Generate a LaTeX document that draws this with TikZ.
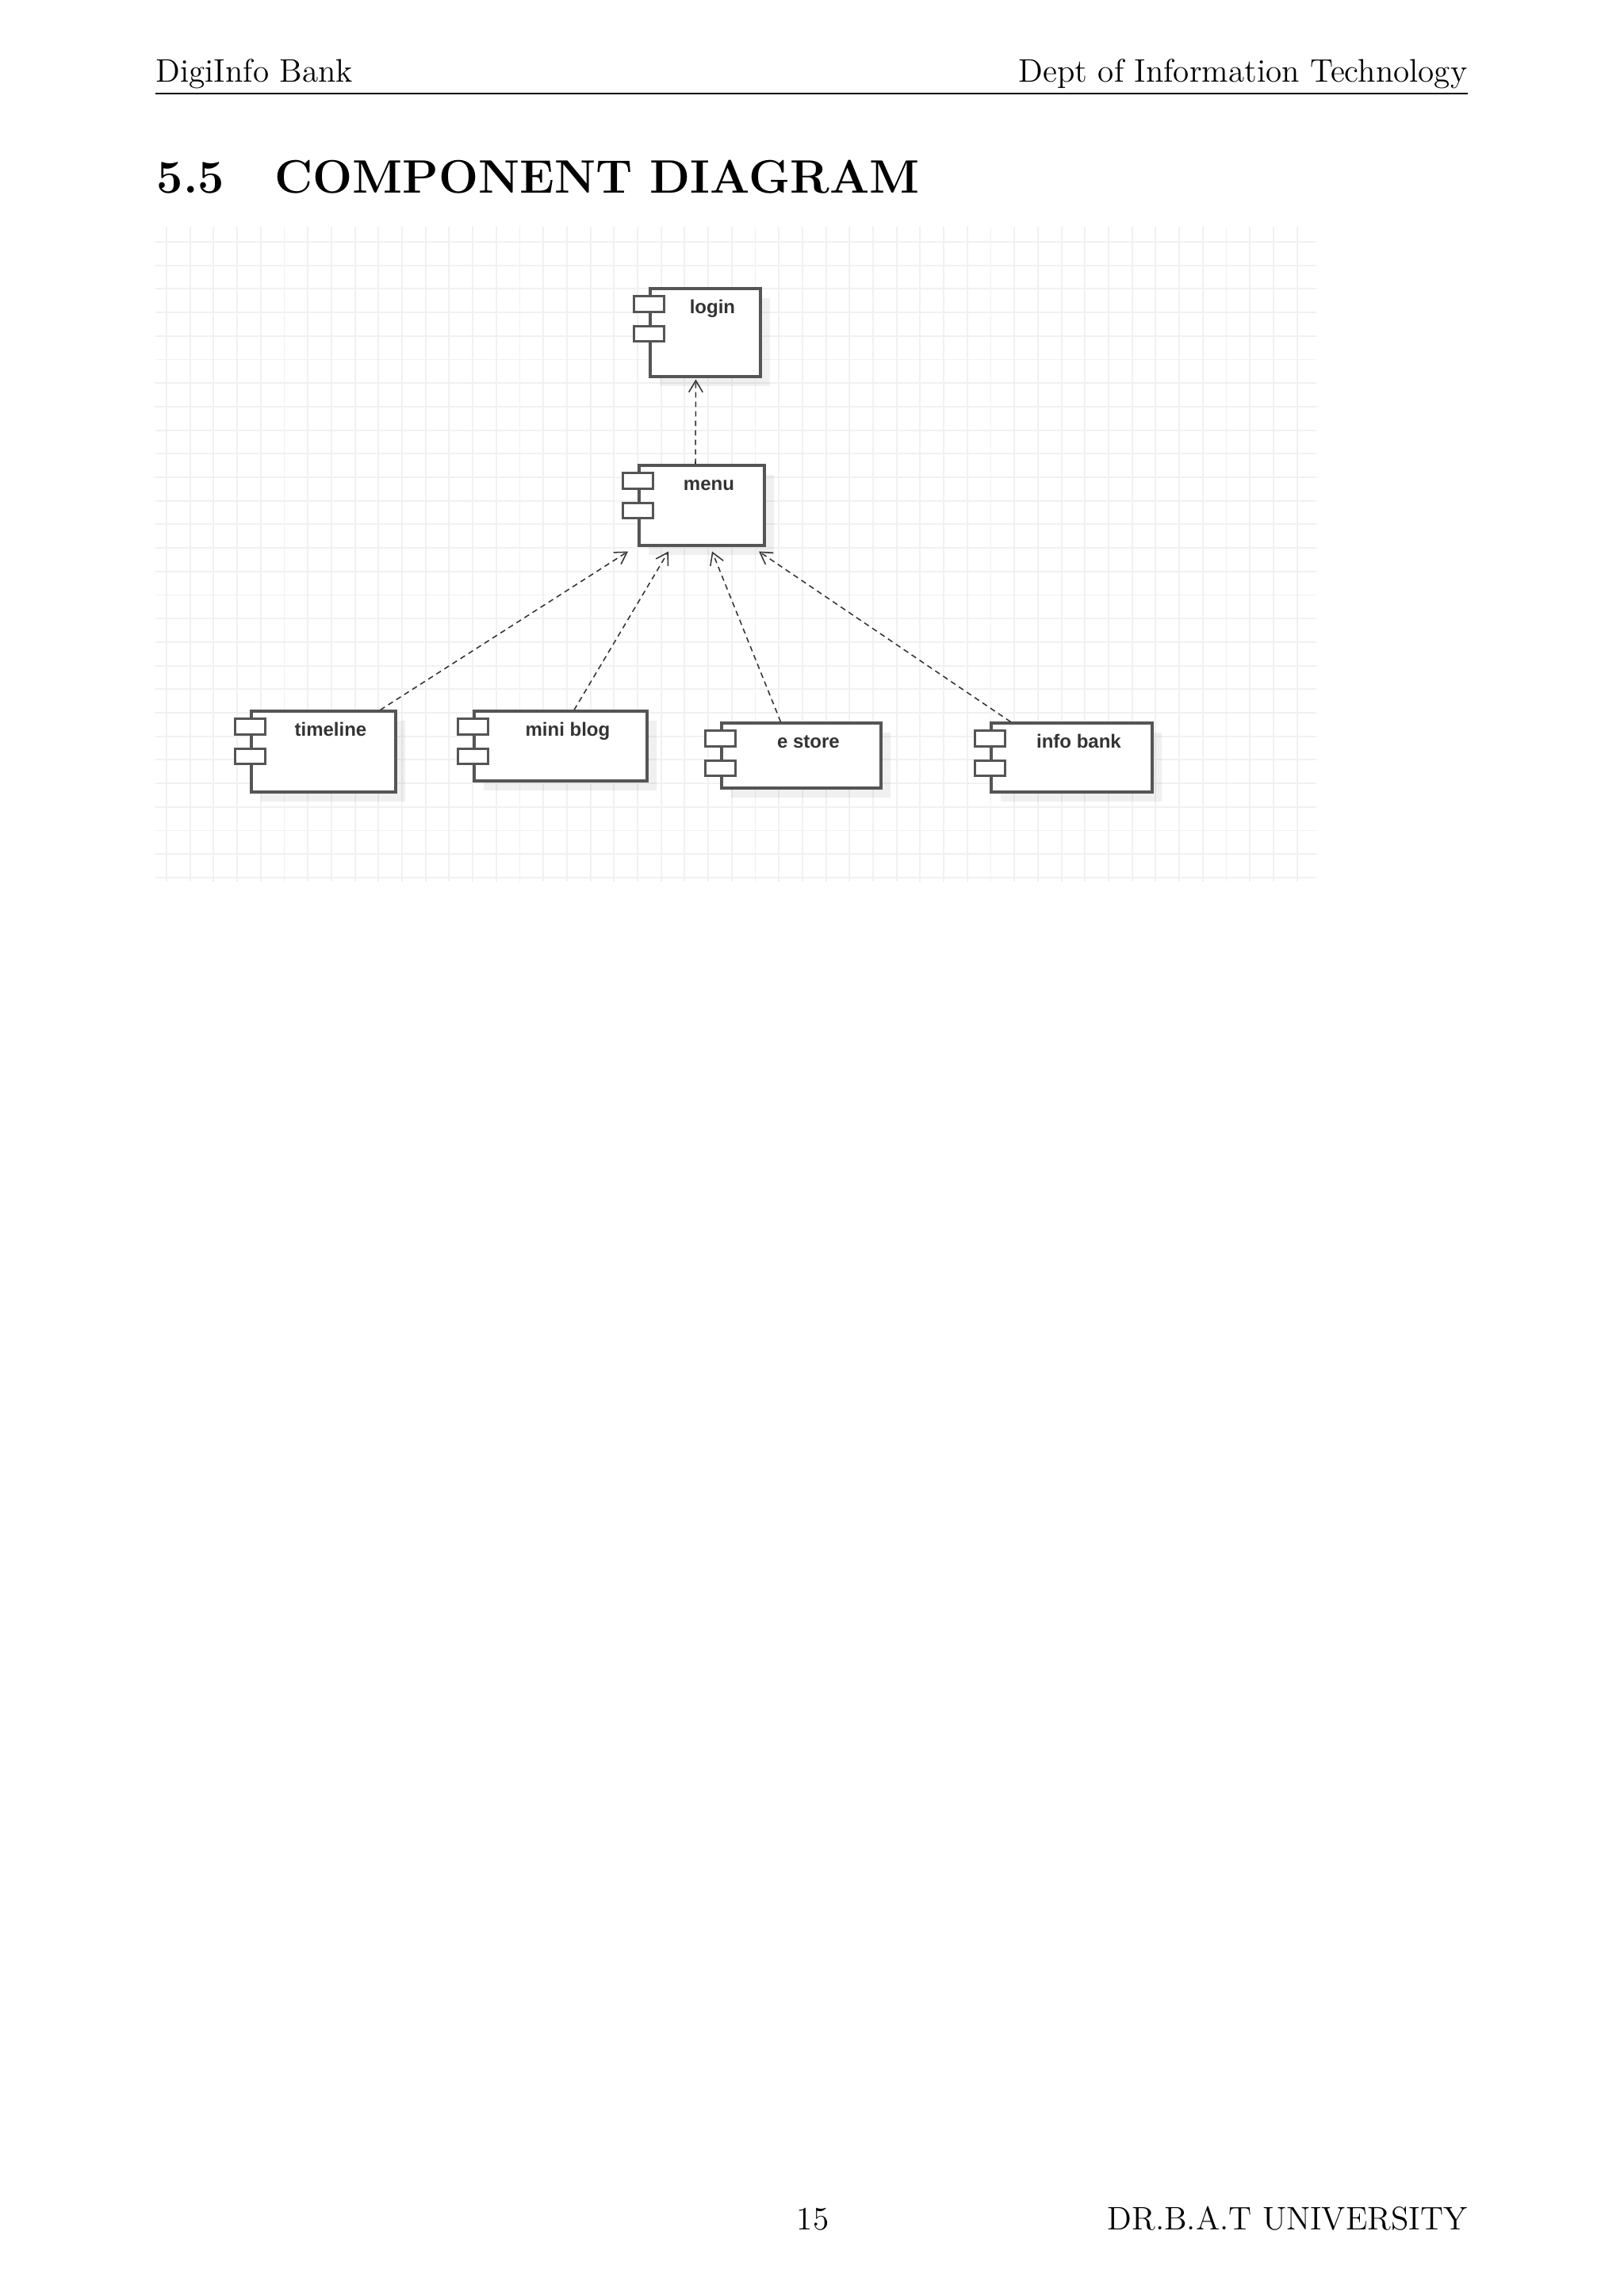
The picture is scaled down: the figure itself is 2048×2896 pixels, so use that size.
\documentclass[tikz,border=0pt]{standalone}
\usepackage{fontspec}
\usepackage{tikz}
\usetikzlibrary{calc,shadows,arrows.meta}
\newfontfamily\umlfont{Liberation Sans}
\definecolor{boxline}{HTML}{555555}
\definecolor{depline}{HTML}{333333}
\definecolor{gridclr}{HTML}{F1F1F1}
\newcommand{\ux}{0.010254cm}
\tikzset{
	comp/.style={draw=boxline,line width=0.9pt,fill=white,inner sep=0pt,
		drop shadow={shadow xshift=0.12cm,shadow yshift=-0.12cm,fill=black,opacity=0.06}},
	lbl/.style={anchor=base,inner sep=0pt,xshift=0.092cm,yshift=-0.335cm,
		font=\umlfont\bfseries\fontsize{7}{8}\selectfont,text=depline},
	port/.style={draw=boxline,line width=0.8pt,fill=white},
	dep/.style={draw=depline,line width=0.45pt,dash pattern=on 2pt off 1.5pt,
		-{Straight Barb[length=1.5mm,width=1.8mm]}},
	gridline/.style={draw=gridclr,line width=0.55pt},
	pagetext/.style={inner sep=0pt,font=\fontsize{12}{14.5}\selectfont}
}
\begin{document}
\begin{tikzpicture}[x=0.010254cm,y=-0.010254cm]
	\useasboundingbox (0,0) rectangle (2048,2896);
	% page header
	\node[pagetext,anchor=base west] (head1) at (196,103) {DigiInfo Bank};
	\node[pagetext,anchor=base east] (head2) at (1851,103) {Dept of Information Technology};
	\draw[line width=0.4pt] (196,118) -- (1851,118);
	\node[anchor=base west,inner sep=0pt,font=\fontsize{17.28}{22}\selectfont\bfseries] (title) at (197,243) {5.5\hspace{1.07em}COMPONENT DIAGRAM};

	% grid
	\foreach \i in {0,...,48}
		\draw[gridline] ({210+29.7*\i},286) -- ({210+29.7*\i},1112);
	\foreach \j in {0,...,27}
		\draw[gridline] (196,{305+29.7*\j}) -- (1660,{305+29.7*\j});

	% components
	\node[comp,minimum width=139*\ux,minimum height=111*\ux,label={[lbl]north:login}] at (889.5,419.5) (login) {};
	\node[comp,minimum width=158*\ux,minimum height=101*\ux,label={[lbl]north:menu}] at (885,637.5) (menu) {};
	\node[comp,minimum width=182*\ux,minimum height=102*\ux,label={[lbl]north:timeline}] at (408,948) (timeline) {};
	\node[comp,minimum width=218*\ux,minimum height=88*\ux,label={[lbl]north:mini blog}] at (707,941) (miniblog) {};
	\node[comp,minimum width=201*\ux,minimum height=82*\ux,label={[lbl]north:e store}] at (1010.5,953) (estore) {};
	\node[comp,minimum width=203*\ux,minimum height=87*\ux,label={[lbl]north:info bank}] at (1351.5,955.5) (infobank) {};

	\foreach \n in {login,menu,timeline,miniblog,estore,infobank} {
		\draw[port] ($(\n.north west)+(-19,11)$) rectangle +(38,20);
		\draw[port] ($(\n.north west)+(-19,49)$) rectangle +(38,19);
	}

	% dependencies
	\draw[dep] ($(menu.north)+(-8,0)$) -- ($(login.south)+(-12,2)$);
	\draw[dep] ($(timeline.north east)+(-21,0)$) -- ($(menu.south)+(-93,6)$);
	\draw[dep] ($(miniblog.north)+(17,0)$) -- ($(menu.south)+(-42,6)$);
	\draw[dep] ($(estore.north)+(-26,0)$) -- ($(menu.south)+(13,6)$);
	\draw[dep] ($(infobank.north west)+(26,0)$) -- ($(menu.south)+(72,6)$);

	% page footer
	\node[pagetext,anchor=base] (pagenum) at (1025,2812) {15};
	\node[pagetext,anchor=base east] (foot) at (1851,2812) {DR.B.A.T UNIVERSITY};
\end{tikzpicture}
\end{document}
